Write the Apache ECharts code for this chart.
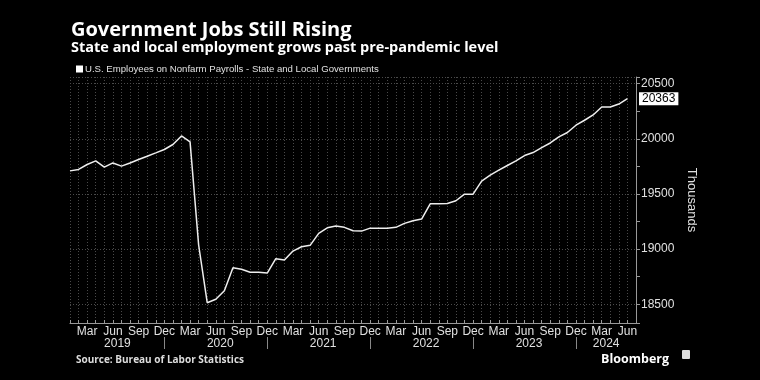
<!DOCTYPE html>
<html>
<head>
<meta charset="utf-8">
<script src="https://cdn.jsdelivr.net/npm/echarts@6/dist/echarts.min.js"></script>
<style>
html,body{margin:0;padding:0;background:#000;}
#chart{width:760px;height:380px;}
</style>
</head>
<body>
<div id="chart"></div>
<script>
// Monthly categories Jan 2019 .. Jul 2024 (Jul 2024 has no value)
var years = [2019, 2020, 2021, 2022, 2023, 2024];
var monthNames = ['Jan','Feb','Mar','Apr','May','Jun','Jul','Aug','Sep','Oct','Nov','Dec'];
var labelMonths = ['Mar','Jun','Sep','Dec'];
var yTicks = [18500, 19000, 19500, 20000, 20500];
var seriesName = 'U.S. Employees on Nonfarm Payrolls - State and Local Governments';

var values2019 = [19709, 19722, 19767, 19800, 19743, 19781, 19752, 19781, 19812, 19842, 19872, 19903];
var values2020 = [19948, 20026, 19972, 19037, 18514, 18545, 18623, 18831, 18817, 18790, 18790, 18783];
var values2021 = [18913, 18901, 18982, 19021, 19034, 19143, 19193, 19209, 19197, 19166, 19163, 19190];
var values2022 = [19190, 19190, 19197, 19233, 19257, 19272, 19410, 19410, 19414, 19438, 19498, 19498];
var values2023 = [19616, 19670, 19715, 19758, 19800, 19848, 19875, 19920, 19962, 20017, 20057, 20123];
var values2024 = [20168, 20216, 20288, 20288, 20315, 20363];
var lastValue = 20363;

var categories = [];
years.forEach(function (y) {
  monthNames.forEach(function (m, i) {
    if (y < 2024 || i <= 6) categories.push({ y: y, m: m });
  });
});
var catNames = categories.map(function (c) { return c.m + ' ' + c.y; });
var values = [].concat(values2019, values2020, values2021, values2022, values2023, values2024);

var textCol = '#e0e0e0';
var gridCol = '#4a4a4a';
var font = 'Liberation Sans, Arial, sans-serif';

var chart = echarts.init(document.getElementById('chart'), null, { renderer: 'canvas' });
chart.setOption({
  backgroundColor: '#000',
  animation: false,
  title: [
    {
      text: 'Government Jobs Still Rising',
      subtext: 'State and local employment grows past pre-pandemic level',
      left: 66, top: 15, itemGap: 0,
      textStyle: { color: '#fff', fontSize: 20, fontWeight: 'bold', fontFamily: 'Open Sans' },
      subtextStyle: { color: '#fff', fontSize: 14.5, fontWeight: 'bold', fontFamily: 'Open Sans' }
    },
    {
      text: 'Source: Bureau of Labor Statistics',
      left: 71, top: 350,
      textStyle: { color: '#ddd', fontSize: 10, fontWeight: 'bold', fontFamily: 'Open Sans' }
    },
    {
      text: 'Bloomberg',
      right: 86, top: 348,
      textStyle: { color: '#fff', fontSize: 12.5, fontWeight: 'bold', fontFamily: 'Open Sans' }
    }
  ],
  graphic: [
    { type: 'rect', right: 70, top: 350, shape: { width: 8, height: 9, r: 1 }, style: { fill: '#ddd' } }
  ],
  legend: {
    left: 71, top: 59,
    icon: 'rect', itemWidth: 7, itemHeight: 7, itemGap: 4,
    textStyle: { color: textCol, fontSize: 9.6, fontFamily: font, padding: [0, 0, 0, -3] },
    data: [seriesName]
  },
  grid: { left: 70, right: 124, top: 77, bottom: 57, containLabel: false },
  xAxis: [
    {
      type: 'category', data: catNames, boundaryGap: false, position: 'bottom',
      axisLine: { show: true, lineStyle: { color: '#999', width: 1 } },
      axisTick: { show: true, inside: true, length: 3, interval: 0, lineStyle: { color: '#999' } },
      splitLine: { show: true, interval: 0, lineStyle: { color: gridCol, type: [1, 2], width: 1 } },
      axisLabel: {
        color: textCol, fontSize: 12, fontFamily: font, margin: 3,
        interval: function (i) { return labelMonths.indexOf(categories[i].m) >= 0 && i < values.length; },
        formatter: function (v, i) { return categories[i].m; }
      }
    },
    {
      type: 'category', data: catNames, boundaryGap: false, position: 'bottom', offset: 14,
      axisLine: { show: false },
      axisTick: { show: true, length: 12, interval: function (i) { return categories[i].m === 'Dec'; }, lineStyle: { color: '#888' } },
      splitLine: { show: false },
      axisLabel: {
        color: textCol, fontSize: 12, fontFamily: font, margin: 1, padding: [0, 0, 0, 9],
        interval: function (i) {
          var c = categories[i];
          return (c.m === 'Jun' && c.y < 2024) || (c.m === 'Mar' && c.y === 2024);
        },
        formatter: function (v, i) { return String(categories[i].y); }
      }
    }
  ],
  yAxis: {
    type: 'value', position: 'right', min: 18330, max: 20560, splitNumber: 4,
    name: 'Thousands', nameLocation: 'middle', nameRotate: -90, nameGap: 38,
    nameTextStyle: { color: textCol, fontSize: 13, fontFamily: font },
    axisLine: { show: true, lineStyle: { color: '#999' } },
    axisTick: { show: true, length: 4, lineStyle: { color: '#999' } },
    minorTick: { show: true, splitNumber: 2, length: 4, lineStyle: { color: '#999' } },
    splitLine: { show: true, lineStyle: { color: gridCol, type: [1, 2] } },
    axisLabel: {
      color: textCol, fontSize: 12, fontFamily: font, margin: 5, showMinLabel: false, showMaxLabel: false,
      formatter: function (v) { return yTicks.indexOf(v) >= 0 ? String(v) : ''; }
    }
  },
  series: [
    {
      name: seriesName, type: 'line', data: values, symbol: 'none', xAxisIndex: 0,
      itemStyle: { color: '#fff' },
      lineStyle: { color: '#eee', width: 1.5 },
      markLine: {
        silent: true, symbol: 'none', animation: false,
        lineStyle: { color: 'rgba(0,0,0,0)', width: 0, type: 'solid' },
        label: {
          show: true, position: 'end', distance: 3,
          backgroundColor: '#fff', color: '#000', fontSize: 12, fontFamily: font,
          padding: [1, 3, 0, 3],
          formatter: function () { return String(lastValue); }
        },
        data: [{ yAxis: lastValue }]
      }
    }
  ]
});
</script>
</body>
</html>
